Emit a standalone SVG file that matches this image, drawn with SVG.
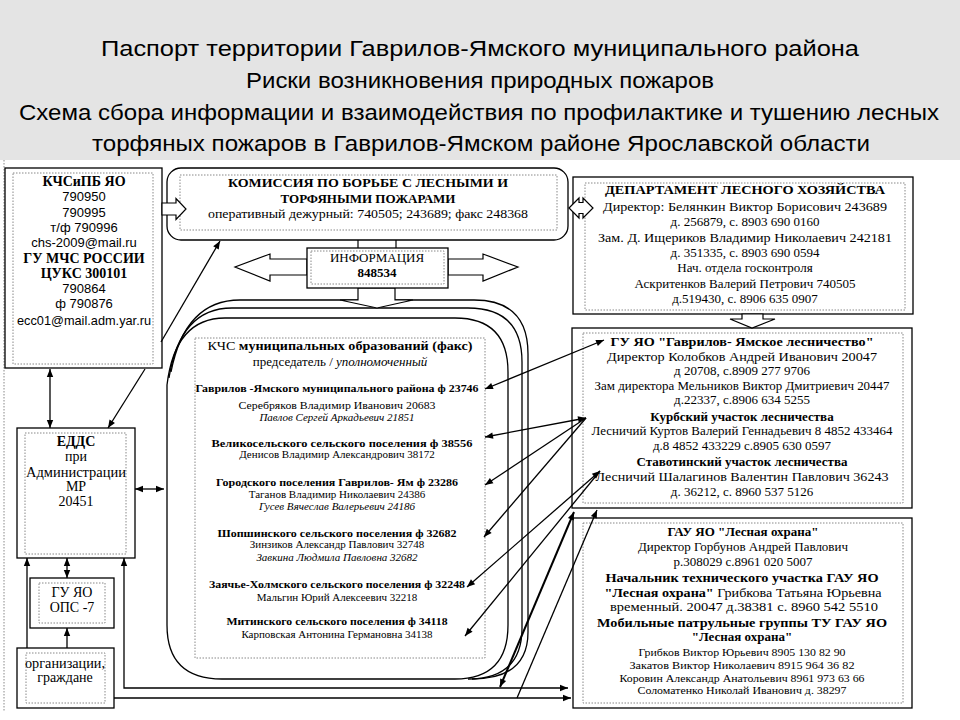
<svg xmlns="http://www.w3.org/2000/svg" width="960" height="720" viewBox="0 0 960 720">
<style>
.box{fill:#fff;stroke:#000;stroke-width:1.3}
.dot{fill:none;stroke:#888;stroke-width:1;stroke-dasharray:1.5 1.5}
.ln{fill:none;stroke:#000;stroke-width:1.3}
.blk{fill:#fff;stroke:#000;stroke-width:1.2}
text{font-family:"Liberation Serif","Times New Roman",serif;fill:#000;text-anchor:middle}
.ttl{font-family:"Liberation Sans Narrow","Liberation Sans",Arial,sans-serif;font-size:22px}
.b{font-weight:bold}
.i{font-style:italic}
.s{font-family:"Liberation Sans",Arial,sans-serif}
.f13{font-size:13px}
.f14{font-size:14px}
.f11{font-size:11px}
.f12{font-size:12px}
</style>
<defs>
<marker id="ah" viewBox="0 0 10 10" refX="10" refY="5" markerWidth="9" markerHeight="8" markerUnits="userSpaceOnUse" orient="auto-start-reverse"><path d="M0,1 L10,5 L0,9 z" fill="#000"/></marker>
</defs>
<rect width="960" height="720" fill="#fff"/>
<rect x="0" y="0" width="960" height="160" fill="#e4e4e4"/>
<g id="title">
<text class="ttl" x="480" y="56" textLength="758" lengthAdjust="spacingAndGlyphs">Паспорт территории Гаврилов-Ямского муниципального района</text>
<text class="ttl" x="480" y="88" textLength="468" lengthAdjust="spacingAndGlyphs">Риски возникновения природных пожаров</text>
<text class="ttl" x="479" y="120" textLength="920" lengthAdjust="spacingAndGlyphs">Схема сбора информации и взаимодействия по профилактике и тушению лесных</text>
<text class="ttl" x="481" y="151" textLength="778" lengthAdjust="spacingAndGlyphs">торфяных пожаров в Гаврилов-Ямском районе Ярославской области</text>
</g>
<line x1="4" y1="160" x2="4" y2="712" class="dot"/>

<g id="kchs-kcs">
<path class="ln" d="M167,385 L167,625 Q167,679 222,679 L455,679 Q508,679 508,625 L508,372 Q508,318 455,318 L225,318 Q175,318 167,385"/>
<path class="ln" d="M169,378 Q180,308 232,308 L468,308 Q522,308 522,362 L522,628 Q522,679 468,679"/>
<path class="ln" d="M171,372 Q185,300 240,300 L474,300 Q528,300 528,354 L528,632 Q528,679 472,679"/>
<rect class="dot" x="195" y="338" width="290" height="320"/>
<text class="f13" x="340" y="350" textLength="265" lengthAdjust="spacingAndGlyphs">КЧС <tspan class="b">муниципальных образований (факс)</tspan></text>
<text class="f13" x="340" y="366">председатель / <tspan class="i">уполномоченный</tspan></text>
<text class="f11 b" x="337" y="392" textLength="283" lengthAdjust="spacingAndGlyphs">Гаврилов -Ямского муниципального района ф 23746</text>
<text class="f11" x="337" y="409" textLength="197" lengthAdjust="spacingAndGlyphs">Серебряков Владимир Иванович 20683</text>
<text class="f11 i" x="337" y="421">Павлов Сергей Аркадьевич 21851</text>
<text class="f11 b" x="342" y="447" textLength="261" lengthAdjust="spacingAndGlyphs">Великосельского сельского поселения  ф 38556</text>
<text class="f11" x="337" y="458">Денисов Владимир Александрович 38172</text>
<text class="f11 b" x="337" y="486" textLength="242" lengthAdjust="spacingAndGlyphs">Городского поселения Гаврилов- Ям  ф 23286</text>
<text class="f11" x="337" y="498">Таганов Владимир Николаевич 24386</text>
<text class="f11 i" x="337" y="510">Гусев Вячеслав Валерьевич 24186</text>
<text class="f11 b" x="337" y="537" textLength="239" lengthAdjust="spacingAndGlyphs">Шопшинского сельского поселения  ф 32682</text>
<text class="f11" x="337" y="548">Зинзиков Александр Павлович  32748</text>
<text class="f11 i" x="337" y="561">Завкина Людмила Павловна  32682</text>
<text class="f11 b" x="337" y="588" textLength="256" lengthAdjust="spacingAndGlyphs">Заячье-Холмского сельского поселения ф 32248</text>
<text class="f11" x="337" y="601">Мальгин Юрий Алексеевич 32218</text>
<text class="f11 b" x="337" y="625" textLength="221" lengthAdjust="spacingAndGlyphs">Митинского сельского поселения ф 34118</text>
<text class="f11" x="337" y="638">Карповская Антонина Германовна 34138</text>
</g>

<g id="info">
<path class="blk" d="M358,288 L358,300 L340,300 L377,308 L413,300 L395,300 L395,288 Z"/>
<path class="blk" d="M358,249 L358,239 L345,239 L377,226 L410,239 L396,239 L396,249 Z"/>
<path class="blk" d="M307,259 L270,259 L270,254 L235,267 L270,281 L270,275 L307,275 Z"/>
<path class="blk" d="M448,259 L483,259 L483,254 L518,267 L483,281 L483,275 L448,275 Z"/>
<rect class="box" x="307" y="248" width="141" height="40"/>
<rect class="dot" x="311" y="251" width="133" height="33"/>
<text class="f13" x="377" y="262">ИНФОРМАЦИЯ</text>
<text class="f13 b" x="377" y="277">848534</text>
</g>

<g id="kchspb">
<rect class="box" x="5" y="168" width="157" height="200"/>
<rect class="dot" x="13" y="173" width="140" height="191"/>
<text class="f14 b" x="84" y="186">КЧСиПБ ЯО</text>
<text class="f13 s" x="84" y="201">790950</text>
<text class="f13 s" x="84" y="217">790995</text>
<text class="f13 s" x="84" y="232">т/ф 790996</text>
<text class="f13 s" x="84" y="247">chs-2009@mail.ru</text>
<text class="f14 b" x="84" y="263">ГУ МЧС РОССИИ</text>
<text class="f14 b" x="84" y="278">ЦУКС 300101</text>
<text class="f13 s" x="84" y="293">790864</text>
<text class="f13 s" x="84" y="308">ф 790876</text>
<text class="f13 s" x="84" y="325" textLength="134" lengthAdjust="spacingAndGlyphs">ecc01@mail.adm.yar.ru</text>
</g>

<g id="commission">
<rect class="box" x="167" y="168" width="401" height="72" rx="14"/>
<rect class="dot" x="180" y="175" width="377" height="55"/>
<text class="f13 b" x="368" y="187" textLength="280" lengthAdjust="spacingAndGlyphs">КОМИССИЯ ПО БОРЬБЕ С ЛЕСНЫМИ И</text>
<text class="f13 b" x="368" y="203">ТОРФЯНЫМИ ПОЖАРАМИ</text>
<text class="f13" x="368" y="218" textLength="320" lengthAdjust="spacingAndGlyphs">оперативный дежурный: 740505; 243689; факс 248368</text>
</g>

<g id="department">
<rect class="box" x="573" y="177" width="340" height="137"/>
<rect class="dot" x="585" y="183" width="320" height="127"/>
<text class="f13 b" x="745" y="194" textLength="280" lengthAdjust="spacingAndGlyphs">ДЕПАРТАМЕНТ ЛЕСНОГО ХОЗЯЙСТВА</text>
<text class="f13" x="745" y="211" textLength="284" lengthAdjust="spacingAndGlyphs">Директор: Белянкин Виктор Борисович 243689</text>
<text class="f13" x="745" y="226">д. 256879, с. 8903 690 0160</text>
<text class="f13" x="745" y="242" textLength="294" lengthAdjust="spacingAndGlyphs">Зам. Д. Ищериков Владимир Николаевич 242181</text>
<text class="f13" x="745" y="257">д. 351335, с. 8903 690 0594</text>
<text class="f13" x="745" y="272">Нач. отдела госконтроля</text>
<text class="f13" x="745" y="288">Аскритенков Валерий Петрович 740505</text>
<text class="f13" x="745" y="303">д.519430, с. 8906 635 0907</text>
</g>

<g id="leschestvo">
<rect class="box" x="572" y="328" width="340" height="180"/>
<rect class="dot" x="583" y="333" width="320" height="170"/>
<text class="f13 b" x="742" y="346" textLength="263" lengthAdjust="spacingAndGlyphs">ГУ ЯО "Гаврилов- Ямское лесничество"</text>
<text class="f13" x="742" y="361" textLength="270" lengthAdjust="spacingAndGlyphs">Директор Колобков Андрей Иванович 20047</text>
<text class="f13" x="742" y="375">д 20708, с.8909 277 9706</text>
<text class="f13" x="742" y="390" textLength="295" lengthAdjust="spacingAndGlyphs">Зам директора Мельников Виктор Дмитриевич 20447</text>
<text class="f13" x="742" y="404">д.22337, с.8906 634 5255</text>
<text class="f13 b" x="742" y="421">Курбский участок лесничества</text>
<text class="f13" x="742" y="435" textLength="301" lengthAdjust="spacingAndGlyphs">Лесничий Куртов Валерий Геннадьевич 8 4852 433464</text>
<text class="f13" x="742" y="450">д.8 4852 433229 с.8905 630 0597</text>
<text class="f13 b" x="742" y="466">Ставотинский участок  лесничества</text>
<text class="f13" x="742" y="481" textLength="293" lengthAdjust="spacingAndGlyphs">Лесничий Шалагинов Валентин Павлович 36243</text>
<text class="f13" x="742" y="496">д. 36212, с. 8960 537 5126</text>
</g>

<g id="lesnaya-ohrana">
<rect class="box" x="573" y="518" width="339" height="190"/>
<rect class="dot" x="583" y="523" width="320" height="180"/>
<text class="f13 b" x="743" y="536">ГАУ ЯО "Лесная охрана"</text>
<text class="f13" x="743" y="551">Директор Горбунов Андрей Павлович</text>
<text class="f13" x="743" y="566">р.308029  с.8961 020 5007</text>
<text class="f13 b" x="742" y="582" textLength="273" lengthAdjust="spacingAndGlyphs">Начальник технического участка ГАУ ЯО</text>
<text class="f13" x="743" y="597" textLength="277" lengthAdjust="spacingAndGlyphs"><tspan class="b">"Лесная охрана"</tspan> Грибкова Татьяна Юрьевна</text>
<text class="f13" x="744" y="611" textLength="268" lengthAdjust="spacingAndGlyphs">временный. 20047  д.38381  с. 8960 542 5510</text>
<text class="f13 b" x="742" y="627" textLength="290" lengthAdjust="spacingAndGlyphs">Мобильные патрульные группы ТУ ГАУ ЯО</text>
<text class="f13 b" x="742" y="641">"Лесная охрана"</text>
<text class="f11" x="742" y="656" textLength="207" lengthAdjust="spacingAndGlyphs">Грибков Виктор Юрьевич 8905 130 82 90</text>
<text class="f11" x="742" y="669" textLength="225" lengthAdjust="spacingAndGlyphs">Закатов Виктор Николаевич 8915 964 36 82</text>
<text class="f11" x="742" y="682" textLength="245" lengthAdjust="spacingAndGlyphs">Коровин Александр Анатольевич 8961 973 63 66</text>
<text class="f11" x="742" y="694" textLength="209" lengthAdjust="spacingAndGlyphs">Соломатенко Николай Иванович д. 38297</text>
</g>

<g id="edds">
<rect class="box" x="17" y="428" width="118" height="130"/>
<rect class="dot" x="25" y="433" width="101" height="121"/>
<text class="f14 b" x="76" y="446">ЕДДС</text>
<text class="f14" x="76" y="461">при</text>
<text class="f14" x="76" y="477" textLength="100" lengthAdjust="spacingAndGlyphs">Администрации</text>
<text class="f14" x="76" y="491">МР</text>
<text class="f14" x="76" y="506">20451</text>
</g>

<g id="ops7">
<rect class="box" x="30" y="578" width="84" height="50"/>
<rect class="dot" x="39" y="583" width="66" height="40"/>
<text class="f14" x="72" y="597">ГУ ЯО</text>
<text class="f14" x="72" y="612">ОПС -7</text>
</g>

<g id="citizens">
<rect class="box" x="17" y="648" width="97" height="60"/>
<rect class="dot" x="26" y="653" width="79" height="50"/>
<text class="f14" x="65" y="668" textLength="80" lengthAdjust="spacingAndGlyphs">организации,</text>
<text class="f14" x="65" y="682">граждане</text>
</g>

<g id="connectors">
<path class="blk" d="M162,203 L176,203 L176,198.5 L186,209 L176,219.5 L176,215 L162,215 Z"/>
<path class="blk" d="M569,208 L579,198 L579,202.5 L583,202.5 L583,198 L593,208 L583,218 L583,213.5 L579,213.5 L579,218 Z"/>
<path class="blk" d="M742,314 L742,319 L730,319 L752,328 L775,319 L763,319 L763,314 Z"/>
<line class="ln" x1="161" y1="342" x2="220" y2="241" marker-end="url(#ah)"/>
<line class="ln" x1="50" y1="369" x2="50" y2="428" marker-start="url(#ah)" marker-end="url(#ah)"/>
<line class="ln" x1="145" y1="369" x2="108" y2="428" marker-end="url(#ah)"/>
<line class="ln" x1="135" y1="489" x2="164" y2="489" marker-start="url(#ah)" marker-end="url(#ah)"/>
<line class="ln" x1="67" y1="558" x2="67" y2="578" marker-start="url(#ah)" marker-end="url(#ah)"/>
<line class="ln" x1="67" y1="648" x2="67" y2="628" marker-end="url(#ah)"/>
<line class="ln" x1="27" y1="648" x2="27" y2="558" marker-end="url(#ah)"/>
<polyline class="ln" points="124,558 124,688 568,688" marker-start="url(#ah)" marker-end="url(#ah)"/>
<line class="ln" x1="114" y1="698" x2="571" y2="698" marker-end="url(#ah)"/>
<line class="ln" x1="604" y1="340" x2="485" y2="389" marker-start="url(#ah)" marker-end="url(#ah)"/>
<line class="ln" x1="586" y1="418" x2="485" y2="437" marker-start="url(#ah)" marker-end="url(#ah)"/>
<line class="ln" x1="586" y1="418" x2="485" y2="485" marker-end="url(#ah)"/>
<line class="ln" x1="586" y1="418" x2="484" y2="537" marker-end="url(#ah)"/>
<line class="ln" x1="600" y1="471" x2="467" y2="587" marker-start="url(#ah)" marker-end="url(#ah)"/>
<line class="ln" x1="600" y1="471" x2="465" y2="636" marker-end="url(#ah)"/>
<line class="ln" style="stroke-width:2" x1="500" y1="687" x2="574" y2="512" marker-start="url(#ah)" marker-end="url(#ah)"/>
<line class="ln" x1="517" y1="698" x2="597" y2="510" marker-end="url(#ah)"/>
</g>
</svg>
